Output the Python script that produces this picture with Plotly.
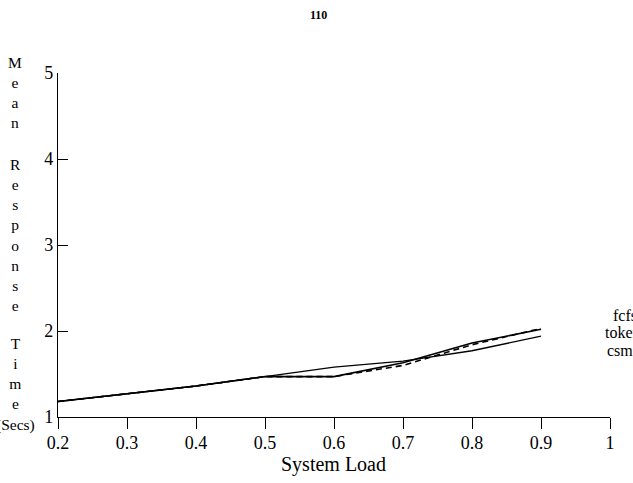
import plotly.graph_objects as go

load = [0.2, 0.3, 0.4, 0.5, 0.6, 0.7, 0.8, 0.9]
fcfs = [1.18, 1.27, 1.36, 1.47, 1.47, 1.63, 1.86, 2.02]
token = [1.18, 1.27, 1.36, 1.47, 1.47, 1.60, 1.84, 2.03]
csm = [1.18, 1.27, 1.36, 1.47, 1.58, 1.65, 1.77, 1.94]

x_ticks = [0.2, 0.3, 0.4, 0.5, 0.6, 0.7, 0.8, 0.9, 1.0]
x_ticktext = ["0.2", "0.3", "0.4", "0.5", "0.6", "0.7", "0.8", "0.9", "1"]
y_ticks = [1, 2, 3, 4, 5]

FONT = "Liberation Serif"

fig = go.Figure()
fig.add_trace(go.Scatter(x=load, y=fcfs, mode="lines", name="fcfs",
                         line=dict(color="black", width=1.6)))
fig.add_trace(go.Scatter(x=load, y=token, mode="lines", name="token",
                         line=dict(color="black", width=1.6, dash="6px,4px")))
fig.add_trace(go.Scatter(x=load, y=csm, mode="lines", name="csm",
                         line=dict(color="black", width=1.4)))

fig.update_layout(
    width=633, height=483,
    margin=dict(l=58, r=23, t=73, b=66),
    paper_bgcolor="white", plot_bgcolor="white",
    showlegend=False,
    font=dict(family=FONT, color="black", size=17),
    xaxis=dict(range=[0.2, 1.0], tickvals=x_ticks, ticktext=x_ticktext,
               showgrid=False, zeroline=False, showline=True, linecolor="black",
               linewidth=1.3, ticks="outside", ticklen=11, tickwidth=1.3,
               ticklabelstandoff=-2,
               tickcolor="black", tickfont=dict(size=18, family=FONT, color="black")),
    yaxis=dict(range=[1, 5], tickvals=y_ticks,
               showgrid=False, zeroline=False, showline=True, linecolor="black",
               linewidth=1.3, ticks="inside", ticklen=10, tickwidth=1.3,
               tickcolor="black", tickfont=dict(size=18, family=FONT, color="black")),
)

ann = []
# page number
ann.append(dict(text="<b>110</b>", x=(318 - 58) / 552, y=(417 - 15) / 344,
                xref="paper", yref="paper", showarrow=False,
                xanchor="center", yanchor="middle",
                font=dict(size=12, family=FONT)))
# x title
ann.append(dict(text="System Load", x=(333 - 58) / 552, y=(417 - 464) / 344,
                xref="paper", yref="paper", showarrow=False,
                xanchor="center", yanchor="middle",
                font=dict(size=20, family=FONT)))
# vertical stacked y title
for txt, py in [("M<br>e<br>a<br>n", 92.5),
                ("R<br>e<br>s<br>p<br>o<br>n<br>s<br>e", 235),
                ("T<br>i<br>m<br>e<br>(Secs)", 384.5)]:
    ann.append(dict(text=txt, x=(15 - 58) / 552, y=(417 - py) / 344,
                    xref="paper", yref="paper", showarrow=False,
                    xanchor="center", yanchor="middle",
                    font=dict(size=15.5, family=FONT)))
# series labels on right
for txt, px, py in [("fcfs", 611, 315), ("token", 603, 332), ("csm", 605, 350)]:
    ann.append(dict(text=txt, x=(px - 58) / 552, y=(417 - py) / 344,
                    xref="paper", yref="paper", showarrow=False,
                    xanchor="left", yanchor="middle",
                    font=dict(size=16, family=FONT)))
fig.update_layout(annotations=ann)

fig.write_html("out.html")
